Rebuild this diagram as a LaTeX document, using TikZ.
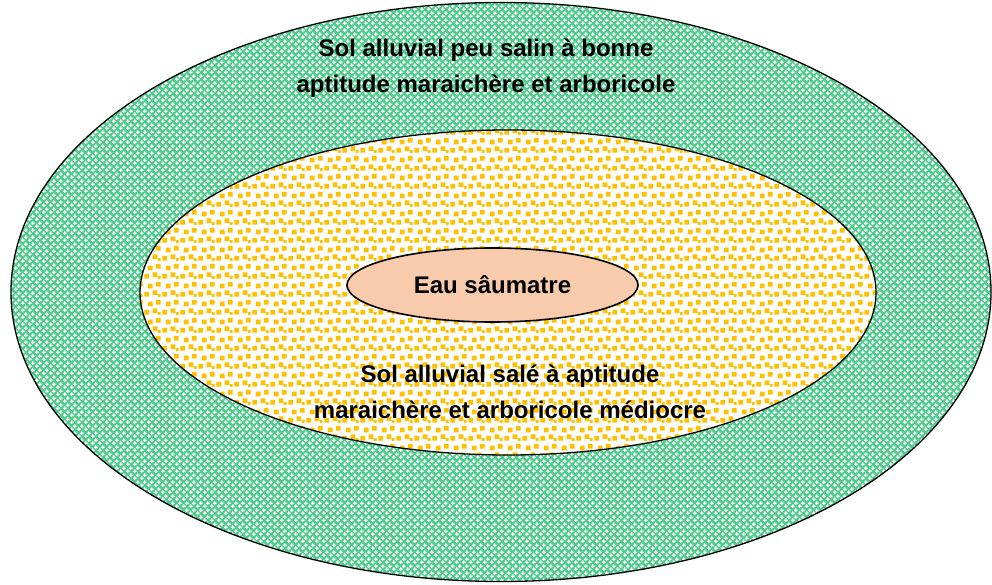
\documentclass[tikz,border=0pt]{standalone}
\usepackage{fontspec}
\setmainfont{Liberation Sans}
\usetikzlibrary{shapes.geometric,patterns,positioning}

\definecolor{vertsol}{RGB}{80,205,140}
\definecolor{orangesol}{RGB}{255,192,0}
\definecolor{saumon}{RGB}{248,203,173}

% motifs des zones
\pgfdeclarepatternformonly{croisillons}{\pgfqpoint{0pt}{0pt}}{\pgfqpoint{7pt}{7pt}}{\pgfqpoint{7pt}{7pt}}{
  \pgfpathrectangle{\pgfqpoint{0pt}{1.25pt}}{\pgfqpoint{4pt}{1.5pt}}
  \pgfpathrectangle{\pgfqpoint{1.25pt}{0pt}}{\pgfqpoint{1.5pt}{4pt}}
  \pgfpathrectangle{\pgfqpoint{3.5pt}{4.75pt}}{\pgfqpoint{4pt}{1.5pt}}
  \pgfpathrectangle{\pgfqpoint{4.75pt}{3.5pt}}{\pgfqpoint{1.5pt}{4pt}}
  \pgfusepath{fill}
}
\pgfdeclarepatternformonly{confettis}{\pgfqpoint{0pt}{0pt}}{\pgfqpoint{18pt}{18pt}}{\pgfqpoint{18pt}{18pt}}{
  \pgfpathrectangle{\pgfqpoint{0.5pt}{0.5pt}}{\pgfqpoint{5pt}{5pt}}
  \pgfpathrectangle{\pgfqpoint{9pt}{2pt}}{\pgfqpoint{5pt}{5pt}}
  \pgfpathrectangle{\pgfqpoint{4pt}{9pt}}{\pgfqpoint{5pt}{5pt}}
  \pgfpathrectangle{\pgfqpoint{12.5pt}{11pt}}{\pgfqpoint{5pt}{5pt}}
  \pgfpathrectangle{\pgfqpoint{14.5pt}{0pt}}{\pgfqpoint{3pt}{3pt}}
  \pgfusepath{fill}
}

\begin{document}
\begin{tikzpicture}[x=1pt,y=1pt,
        zone/.style={ellipse, draw=black, inner sep=0pt},
        legende/.style={font=\bfseries\fontsize{24}{36}\selectfont, align=center}
    ]
    \useasboundingbox (0,0) rectangle (992,584);

    % Zone externe : sol peu salin
    \node[zone, line width=1.3pt, minimum width=980pt, minimum height=579pt,
          preaction={fill=vertsol}, pattern=croisillons, pattern color=white]
          (externe) at (501,292) {};

    % Zone intermediaire : sol sale
    \node[zone, line width=1.3pt, minimum width=736pt, minimum height=325pt,
          preaction={fill=white}, pattern=confettis, pattern color=orangesol]
          (milieu) at (508,291.5) {};

    % Eau saumatre au centre
    \node[zone, line width=1.6pt, fill=saumon, minimum width=291pt, minimum height=74pt]
          (eau) at (492.5,299) {};

    % Textes
    \node[legende] (txtext) at (486,516) {Sol alluvial peu salin à bonne\\aptitude maraichère et arboricole};
    \node[legende] (txteau) at (eau.center) {Eau sâumatre};
    \node[legende] (txtmil) at (510,192) {Sol alluvial salé à aptitude\\maraichère et arboricole médiocre};

\end{tikzpicture}
\end{document}
